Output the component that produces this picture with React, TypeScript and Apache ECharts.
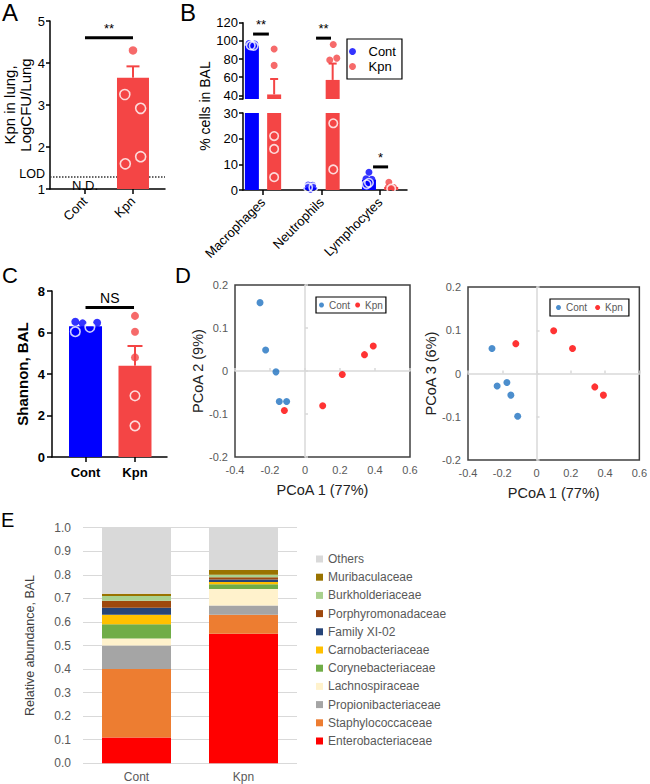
import React, { useEffect, useRef } from 'react';
import * as echarts from 'echarts';

const FONT = '"Liberation Sans", Arial, Helvetica, sans-serif';
const BLUE = '#0000ff';
const RED = '#f44545';
const D_BLUE = '#1f72c1';
const D_RED = '#ff0000';
const GRAY_TXT = '#595959';
const ERR_COLORS = [BLUE, RED];

// ---------- Panel A ----------
const aGroups = ['Cont', 'Kpn'];
const aBars = [[2, 3.65]];
const aErr = [[2, 3.65, 3.92, 1]];
const aFilled = [[2, 4.3]];
const aOpen = [[1.83, 3.25], [2.16, 2.92], [2.16, 1.77], [1.84, 1.6]];
const aLOD = 1.3;
const aND = [[1, 1.095]];
const aNDText = ['N.D.'];
const aSig = [[1, 4.6, 2]];
const aSigText = ['**'];

// ---------- Panel B ----------
const bCells = ['Macrophages', 'Neutrophils', 'Lymphocytes'];
const bContMean = [95, 1, 4];
const bKpnMean = [41, 57, 1.2];
const bKpnErrTop = [58, 75, 1.7];
const bContFilled = [[0.76, 97], [0.86, 96.5], [0.8, 95.5], [1.77, 1.9], [1.85, 1.8], [1.81, 0.3], [2.81, 6.9], [2.76, 4.4], [2.86, 4.2]];
const bContOpen = [[0.79, 95], [0.84, 94.5], [1.77, 1.0], [1.86, 1.0], [2.81, 2.8], [2.77, 2.2]];
const bKpnFilled = [[1.19, 91], [1.19, 73], [2.2, 96], [2.14, 79], [2.26, 81], [3.15, 3], [3.14, 1.1], [3.23, 1.0]];
const bKpnOpen = [[1.19, 21], [1.19, 16], [1.19, 5], [2.2, 26], [2.2, 8], [3.19, 0.5]];
const bSigUpper = [[0.83, 107.5, 1.1], [1.906, 103, 2.162]];
const bSigUpperText = ['**', '**'];
const bSigLower = [[2.88, 9, 3.137]];
const bSigLowerText = ['*'];
const bBreak = 33;

// ---------- Panel C ----------
const cGroups = ['Cont', 'Kpn'];
const cMean = [6.3, 4.4];
const cErr = [[2.02, 4.4, 5.35, 1]];
const cContFilled = [[0.79, 6.52], [0.94, 6.44], [1.24, 6.47]];
const cContOpen = [[1.09, 6.25], [0.79, 6.04]];
const cKpnFilled = [[2.02, 6.8], [2.02, 6.04], [2.02, 4.8]];
const cKpnOpen = [[2.02, 2.95], [2.02, 1.5]];
const cSig = [[1, 7.2, 2]];
const cSigText = ['NS'];

// ---------- Panel D ----------
const dLeftCont = [[-0.257, 0.159], [-0.225, 0.049], [-0.166, -0.002], [-0.147, -0.071], [-0.105, -0.071]];
const dLeftKpn = [[0.39, 0.058], [0.34, 0.038], [0.213, -0.008], [0.101, -0.081], [-0.118, -0.092]];
const dRightCont = [[-0.26, 0.058], [-0.23, -0.029], [-0.173, -0.021], [-0.15, -0.05], [-0.11, -0.099]];
const dRightKpn = [[-0.121, 0.069], [0.1, 0.099], [0.21, 0.058], [0.34, -0.031], [0.39, -0.05]];

// ---------- Panel E ----------
const eCats = ['Cont', 'Kpn'];
const eFamilies = ['Enterobacteriaceae', 'Staphylococcaceae', 'Propionibacteriaceae', 'Lachnospiraceae', 'Corynebacteriaceae', 'Carnobacteriaceae', 'Family XI-02', 'Porphyromonadaceae', 'Burkholderiaceae', 'Muribaculaceae', 'Others'];
const eCont = [0.11, 0.29, 0.10, 0.03, 0.06, 0.04, 0.03, 0.03, 0.02, 0.01, 0.28];
const eKpn = [0.55, 0.08, 0.04, 0.07, 0.02, 0.01, 0.01, 0.01, 0.01, 0.02, 0.18];
const eColors = ['#ff0000', '#ed7d31', '#a5a5a5', '#fff2cc', '#70ad47', '#ffc000', '#264478', '#9e480e', '#a9d18e', '#997300', '#d9d9d9'];

const blackLine = { color: '#000', width: 1.5 };

function scatter(name: string, xi: number, yi: number, data: number[][], color: string, open: boolean, size: number) {
  return {
    type: 'scatter', name, xAxisIndex: xi, yAxisIndex: yi, data, z: 4,
    symbol: 'circle', symbolSize: size,
    itemStyle: open ? { color: 'rgba(0,0,0,0)', borderColor: '#fff', borderWidth: 1.6 } : { color },
    emphasis: { disabled: true },
  };
}

function errSeries(xi: number, yi: number, data: number[][], cap: number) {
  return {
    type: 'custom', xAxisIndex: xi, yAxisIndex: yi, data, z: 3, silent: true, clip: false,
    renderItem: (params: any, api: any) => {
      const x = api.value(0);
      const lo = api.coord([x, api.value(1)]);
      const hi = api.coord([x, api.value(2)]);
      const c = ERR_COLORS[api.value(3)];
      return {
        type: 'group', children: [
          { type: 'line', shape: { x1: lo[0], y1: lo[1], x2: hi[0], y2: hi[1] }, style: { stroke: c, lineWidth: 2 } },
          { type: 'line', shape: { x1: hi[0] - cap / 2, y1: hi[1], x2: hi[0] + cap / 2, y2: hi[1] }, style: { stroke: c, lineWidth: 2 } },
        ],
      };
    },
  };
}

const txtStyle = (text: string, fontSize: number, vAlign: string) => ({
  text, fill: '#000', fontSize, fontFamily: FONT,
  align: 'center', verticalAlign: vAlign, textAlign: 'center', textVerticalAlign: vAlign,
});

function sigSeries(xi: number, yi: number, data: number[][], labels: string[], fontSize: number) {
  return {
    type: 'custom', xAxisIndex: xi, yAxisIndex: yi, data, z: 5, silent: true, clip: false,
    itemStyle: { color: '#000' },
    renderItem: (params: any, api: any) => {
      const a = api.coord([api.value(0), api.value(1)]);
      const b = api.coord([api.value(2), api.value(1)]);
      return {
        type: 'group', children: [
          { type: 'line', shape: { x1: a[0], y1: a[1], x2: b[0], y2: b[1] }, style: { stroke: '#000', lineWidth: 3 } },
          { type: 'text', x: (a[0] + b[0]) / 2, y: a[1] - 3, style: txtStyle(labels[params.dataIndex], fontSize, 'bottom') },
        ],
      };
    },
  };
}

function letter(t: string, x: number, y: number, size: number) {
  return {
    type: 'text', x, y,
    style: { text: t, fontSize: size, fontFamily: FONT, fill: '#000', align: 'left', verticalAlign: 'middle', textAlign: 'left', textVerticalAlign: 'middle' },
  };
}

const fmtD = (v: number) => {
  const r = Math.round(v * 10) / 10;
  return Math.abs(r) < 1e-9 ? '0' : r.toFixed(1);
};

function dAxes(grid: number, yMainIdx: number, xMainIdx: number, yName: string) {
  const xMain = {
    gridIndex: grid, type: 'value', min: -0.4, max: 0.6, interval: 0.2,
    axisLine: { show: false, onZero: false }, axisTick: { show: false }, splitLine: { show: false },
    axisLabel: { fontSize: 11, color: GRAY_TXT, margin: 7, formatter: fmtD },
    name: 'PCoA 1 (77%)', nameLocation: 'middle', nameGap: 25, nameTextStyle: { fontSize: 14.5, color: '#222' },
  };
  const xZero = {
    gridIndex: grid, type: 'value', position: 'top', min: -0.4, max: 0.6, interval: 0.2,
    axisLine: { show: true, onZero: true, onZeroAxisIndex: yMainIdx, lineStyle: { color: '#d9d9d9', width: 1.5 } },
    axisTick: { show: true, length: 3, lineStyle: { color: '#d9d9d9', width: 1.5 } },
    axisLabel: { show: false }, splitLine: { show: false },
  };
  const yMain = {
    gridIndex: grid, type: 'value', min: -0.2, max: 0.2, interval: 0.1,
    axisLine: { show: false, onZero: false }, axisTick: { show: false }, splitLine: { show: false },
    axisLabel: { fontSize: 11, color: GRAY_TXT, margin: 7, formatter: fmtD },
    name: yName, nameLocation: 'middle', nameGap: 25, nameTextStyle: { fontSize: 14.5, color: '#222' },
  };
  const yZero = {
    gridIndex: grid, type: 'value', position: 'right', min: -0.2, max: 0.2, interval: 0.1,
    axisLine: { show: true, onZero: true, onZeroAxisIndex: xMainIdx, lineStyle: { color: '#d9d9d9', width: 1.5 } },
    axisTick: { show: true, length: 3, lineStyle: { color: '#d9d9d9', width: 1.5 } },
    axisLabel: { show: false }, splitLine: { show: false },
  };
  return { xMain, xZero, yMain, yZero };
}

function buildOption(): any {
  const dL = dAxes(4, 4, 4, 'PCoA 2 (9%)');
  const dR = dAxes(5, 6, 6, 'PCoA 3 (6%)');

  const bBarsAll = bCells.flatMap((_, i) => [
    { value: [i + 1 - 0.19, bContMean[i]], itemStyle: { color: BLUE } },
    { value: [i + 1 + 0.19, bKpnMean[i]], itemStyle: { color: RED } },
  ]);
  const bBarsUpper = bBarsAll.filter((d) => d.value[1] > bBreak);
  const bErrAll = bCells.map((_, i) => [i + 1 + 0.19, bKpnMean[i], bKpnErrTop[i], 1]);
  const bErrUpper = bErrAll.filter((d) => d[1] > bBreak);
  const bErrLower = bErrAll.filter((d) => d[1] <= bBreak);
  const up = (arr: number[][]) => arr.filter((p) => p[1] > bBreak);
  const lo = (arr: number[][]) => arr.filter((p) => p[1] <= bBreak);

  const bXAxisBase = { type: 'value', min: 0.658, max: 3.46 };

  const series: any[] = [
    // A
    {
      type: 'bar', xAxisIndex: 0, yAxisIndex: 0, data: aBars, barWidth: 32, itemStyle: { color: RED }, z: 2,
      markLine: {
        silent: true, symbol: 'none', z: 1, animation: false,
        lineStyle: { type: 'dotted', color: '#333', width: 1.5 },
        label: { show: true, position: 'start', formatter: 'LOD', fontSize: 12.5, color: '#000', distance: 5, offset: [0, -2] },
        data: [{ yAxis: aLOD }],
      },
      markPoint: {
        silent: true, symbol: 'circle', symbolSize: 0, z: 10, animation: false,
        itemStyle: { color: '#000' },
        label: {
          show: true, position: 'inside', formatter: (p: any) => aNDText[p.dataIndex],
          color: '#000', fontSize: 13, textBorderWidth: 0, textShadowBlur: 0,
        },
        data: aND.map((c) => ({ coord: c })),
      },
    },
    errSeries(0, 0, aErr, 13),
    scatter('aF', 0, 0, aFilled, RED, false, 8.5),
    scatter('aO', 0, 0, aOpen, RED, true, 10),
    sigSeries(0, 0, aSig, aSigText, 13),
    // B upper
    { type: 'bar', xAxisIndex: 1, yAxisIndex: 1, data: bBarsUpper, barWidth: 14, z: 2 },
    errSeries(1, 1, bErrUpper, 8),
    scatter('Cont', 1, 1, up(bContFilled), BLUE, false, 7),
    scatter('bco', 1, 1, up(bContOpen), BLUE, true, 8.5),
    scatter('Kpn', 1, 1, up(bKpnFilled), RED, false, 7),
    scatter('bko', 1, 1, up(bKpnOpen), RED, true, 8.5),
    sigSeries(1, 1, bSigUpper, bSigUpperText, 13),
    // B lower
    { type: 'bar', xAxisIndex: 2, yAxisIndex: 2, data: bBarsAll, barWidth: 14, z: 2, clip: true },
    errSeries(2, 2, bErrLower, 8),
    scatter('Cont', 2, 2, lo(bContFilled), BLUE, false, 7),
    scatter('bco', 2, 2, lo(bContOpen), BLUE, true, 8.5),
    scatter('Kpn', 2, 2, lo(bKpnFilled), RED, false, 7),
    scatter('bko', 2, 2, lo(bKpnOpen), RED, true, 8.5),
    sigSeries(2, 2, bSigLower, bSigLowerText, 13),
    // C
    {
      type: 'bar', xAxisIndex: 3, yAxisIndex: 3, barWidth: 33, z: 2,
      data: [
        { value: [1, cMean[0]], itemStyle: { color: BLUE } },
        { value: [2.02, cMean[1]], itemStyle: { color: RED } },
      ],
    },
    errSeries(3, 3, cErr, 15),
    scatter('cc', 3, 3, cContFilled, BLUE, false, 8),
    scatter('cco', 3, 3, cContOpen, BLUE, true, 9.5),
    scatter('ck', 3, 3, cKpnFilled, RED, false, 8),
    scatter('cko', 3, 3, cKpnOpen, RED, true, 9.5),
    sigSeries(3, 3, cSig, cSigText, 14),
    // D
    scatter('Cont', 4, 4, dLeftCont, D_BLUE, false, 7),
    scatter('Kpn', 4, 4, dLeftKpn, D_RED, false, 7),
    scatter('Cont', 6, 6, dRightCont, D_BLUE, false, 7),
    scatter('Kpn', 6, 6, dRightKpn, D_RED, false, 7),
    // E
    ...eFamilies.map((f, i) => ({
      type: 'bar', name: f, stack: 'e', xAxisIndex: 8, yAxisIndex: 8, barWidth: 69,
      data: [eCont[i], eKpn[i]], itemStyle: { color: eColors[i] }, emphasis: { disabled: true },
    })),
  ];

  return {
    animation: false,
    textStyle: { fontFamily: FONT },
    grid: [
      { left: 50, top: 21, width: 115, height: 168 },
      { left: 243, top: 22.7, width: 164, height: 76.3 },
      { left: 243, top: 113, width: 164, height: 77 },
      { left: 52, top: 291, width: 115, height: 166 },
      { left: 235, top: 285, width: 175, height: 172, show: true, borderColor: '#404040', borderWidth: 1.5, backgroundColor: 'transparent' },
      { left: 468, top: 287, width: 174, height: 173, show: true, borderColor: '#404040', borderWidth: 1.5, backgroundColor: 'transparent' },
      { left: 83, top: 527.7, width: 214, height: 235.6 },
    ],
    xAxis: [
      {
        gridIndex: 0, type: 'value', min: 0.271, max: 2.667,
        axisLine: { show: true, onZero: false, lineStyle: blackLine },
        axisTick: { show: true, customValues: [1, 2], length: 5, lineStyle: blackLine },
        axisLabel: { customValues: [1, 2], formatter: (v: number) => aGroups[Math.round(v) - 1] || '', rotate: 45, fontSize: 13, color: '#000', margin: 10 },
        splitLine: { show: false },
      },
      { gridIndex: 1, ...bXAxisBase, show: false, splitLine: { show: false } },
      {
        gridIndex: 2, ...bXAxisBase,
        axisLine: { show: true, onZero: false, lineStyle: blackLine },
        axisTick: { show: true, customValues: [1, 2, 3], length: 5, lineStyle: blackLine },
        axisLabel: { customValues: [1, 2, 3], formatter: (v: number) => bCells[Math.round(v) - 1] || '', rotate: 45, fontSize: 13, color: '#000', margin: 10 },
        splitLine: { show: false },
      },
      {
        gridIndex: 3, type: 'value', min: 0.309, max: 2.68,
        axisLine: { show: true, onZero: false, lineStyle: blackLine },
        axisTick: { show: true, customValues: [1, 2.02], length: 5, lineStyle: blackLine },
        axisLabel: { customValues: [1, 2.02], formatter: (v: number) => cGroups[Math.round(v) - 1] || '', fontSize: 13, fontWeight: 'bold', color: '#000', margin: 9 },
        splitLine: { show: false },
      },
      dL.xMain, dL.xZero, dR.xMain, dR.xZero,
      {
        gridIndex: 6, type: 'category', data: eCats,
        axisLine: { show: false }, axisTick: { show: false },
        axisLabel: { fontSize: 12, color: GRAY_TXT, margin: 8 },
      },
    ],
    yAxis: [
      {
        gridIndex: 0, type: 'value', min: 1, max: 5, interval: 1,
        axisLine: { show: true, onZero: false, lineStyle: blackLine },
        axisTick: { show: true, length: 4, lineStyle: blackLine },
        axisLabel: { fontSize: 13, color: '#000', margin: 5 },
        splitLine: { show: false },
        name: 'Kpn in lung,\nLogCFU/Lung', nameLocation: 'middle', nameGap: 15,
        nameTextStyle: { fontSize: 15, color: '#000', lineHeight: 16 },
      },
      {
        gridIndex: 1, type: 'value', min: 36, max: 120,
        axisLine: { show: true, onZero: false, lineStyle: blackLine },
        axisTick: { show: true, length: 4, customValues: [36, 40, 60, 80, 100, 120], lineStyle: blackLine },
        axisLabel: { customValues: [40, 60, 80, 100, 120], fontSize: 13, color: '#000', margin: 5 },
        splitLine: { show: false },
      },
      {
        gridIndex: 2, type: 'value', min: 0, max: 30, interval: 10,
        axisLine: { show: true, onZero: false, lineStyle: blackLine },
        axisTick: { show: true, length: 4, lineStyle: blackLine },
        axisLabel: { fontSize: 13, color: '#000', margin: 5 },
        splitLine: { show: false },
      },
      {
        gridIndex: 3, type: 'value', min: 0, max: 8, interval: 2,
        axisLine: { show: true, onZero: false, lineStyle: blackLine },
        axisTick: { show: true, length: 5, lineStyle: blackLine },
        axisLabel: { fontSize: 13, fontWeight: 'bold', color: '#000', margin: 7 },
        splitLine: { show: false },
        name: 'Shannon, BAL', nameLocation: 'middle', nameGap: 22,
        nameTextStyle: { fontSize: 15, fontWeight: 'bold', color: '#000' },
      },
      dL.yMain, dL.yZero, dR.yMain, dR.yZero,
      {
        gridIndex: 6, type: 'value', min: 0, max: 1, interval: 0.1,
        axisLine: { show: false }, axisTick: { show: false },
        axisLabel: { fontSize: 12, color: GRAY_TXT, margin: 12, formatter: (v: number) => v.toFixed(1) },
        splitLine: { show: true, lineStyle: { color: '#d9d9d9', width: 1 } },
        name: 'Relative abundance, BAL', nameLocation: 'middle', nameGap: 47,
        nameTextStyle: { fontSize: 12.5, color: '#404040' },
      },
    ],
    legend: [
      {
        data: [{ name: 'Cont', itemStyle: { color: BLUE } }, { name: 'Kpn', itemStyle: { color: RED } }],
        orient: 'vertical', left: 347, top: 39, itemWidth: 22, itemHeight: 7, itemGap: 0, icon: 'circle',
        borderColor: '#000', borderWidth: 1.2, padding: [5, 6, 5, 2], selectedMode: false,
        textStyle: { fontSize: 13, color: '#000', lineHeight: 15 },
      },
      {
        data: [{ name: 'Cont', itemStyle: { color: D_BLUE } }, { name: 'Kpn', itemStyle: { color: D_RED } }],
        orient: 'horizontal', left: 316, top: 297, itemWidth: 5, itemHeight: 5, itemGap: 5, icon: 'circle',
        borderColor: '#000', borderWidth: 1.2, padding: [2, 3, 2, 3], selectedMode: false,
        textStyle: { fontSize: 10, color: GRAY_TXT, lineHeight: 12 },
      },
      {
        data: [{ name: 'Cont', itemStyle: { color: D_BLUE } }, { name: 'Kpn', itemStyle: { color: D_RED } }],
        orient: 'horizontal', left: 550, top: 299, itemWidth: 5, itemHeight: 5, itemGap: 8, icon: 'circle',
        borderColor: '#000', borderWidth: 1.2, padding: [2, 6, 2, 6], selectedMode: false,
        textStyle: { fontSize: 10, color: GRAY_TXT, lineHeight: 13 },
      },
      {
        data: [...eFamilies].reverse(),
        orient: 'vertical', left: 316, top: 552, itemWidth: 7, itemHeight: 7, itemGap: 4.2, icon: 'rect',
        padding: 0, selectedMode: false,
        textStyle: { fontSize: 12, color: GRAY_TXT, lineHeight: 14 },
      },
    ],
    graphic: [
      letter('A', 2, 12, 24),
      letter('B', 180, 12.5, 24),
      letter('C', 2, 275.5, 22),
      letter('D', 175, 275.5, 22),
      letter('E', 1, 520, 20),
      {
        type: 'text', x: 205, y: 106, rotation: Math.PI / 2,
        style: { text: '% cells in BAL', fontSize: 14, fontFamily: FONT, fill: '#000', align: 'center', verticalAlign: 'middle', textAlign: 'center', textVerticalAlign: 'middle' },
      },
    ],
    series,
  };
}

export default function App() {
  const ref = useRef<HTMLDivElement>(null);
  useEffect(() => {
    const chart = echarts.init(ref.current as HTMLDivElement, null, { renderer: 'svg' });
    chart.setOption(buildOption());
    return () => chart.dispose();
  }, []);
  return <div ref={ref} style={{ position: 'absolute', left: 0, top: 0, width: 650, height: 784 }} />;
}
